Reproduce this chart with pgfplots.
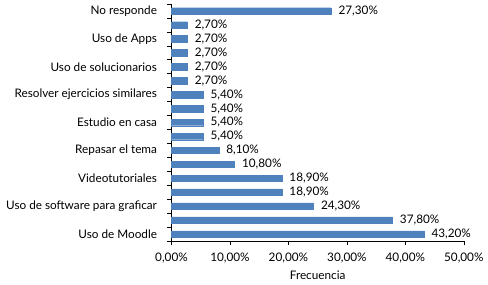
\documentclass[border=0pt]{standalone}
\usepackage{pgfplots}
\pgfplotsset{compat=1.18}
\usepackage{fontspec}
\setmainfont{Lato}
\definecolor{barblue}{HTML}{4F81BD}
\pgfplotstableread{
i v
0 43.2
1 37.8
2 24.3
3 18.9
4 18.9
5 10.8
6 8.1
7 5.4
8 5.4
9 5.4
10 5.4
11 2.7
12 2.7
13 2.7
14 2.7
15 2.7
16 27.3
}\datatable
\begin{document}
\begin{tikzpicture}
\begin{axis}[
  scale only axis,
  width=292.3bp, height=237bp,
  xbar, bar width=6.5bp,
  bar shift=0pt,
  xmin=0, xmax=50,
  ymin=-0.5, ymax=16.5,
  axis lines=left,
  axis line style={-, black, line width=0.8pt},
  xtick={0,10,20,30,40,50},
  xticklabels={{0,00\%},{10,00\%},{20,00\%},{30,00\%},{40,00\%},{50,00\%}},
  ytick={0,2,4,6,8,10,12,14,16},
  yticklabels={Uso de Moodle,Uso de software para graficar,Videotutoriales,Repasar el tema,Estudio en casa,Resolver ejercicios similares,Uso de solucionarios,Uso de Apps,No responde},
  minor ytick={-0.5,0.5,...,16.5},
  major y tick style={draw=none},
  minor y tick style={black, line width=0.6pt},
  minor tick length=4bp,
  x tick style={black, line width=0.6pt},
  major tick length=4bp,
  tick align=outside,
  xtick pos=bottom, ytick pos=left,
  tick label style={font=\fontsize{11.8}{14}\selectfont, text=black},
  yticklabel style={xshift=-7bp},
  xticklabel style={yshift=-4bp},
  xlabel={Frecuencia},
  xlabel style={font=\fontsize{11.8}{14}\selectfont, yshift=-1bp},
  /pgf/number format/assume math mode=true,
  nodes near coords={\pgfmathprintnumber[fixed, fixed zerofill, precision=2, use comma]{\pgfplotspointmeta}\%},
  point meta=x,
  every node near coord/.append style={font=\fontsize{11.8}{14}\selectfont, anchor=west, xshift=4bp, text=black},
  clip=false,
]
\addplot[fill=barblue, draw=barblue, line width=0.3pt] table[x=v, y=i] {\datatable};
\end{axis}
\path ([xshift=-171.5bp,yshift=-44bp]current axis.south west) rectangle ([xshift=24.2bp,yshift=4bp]current axis.north east);
\end{tikzpicture}
\end{document}
